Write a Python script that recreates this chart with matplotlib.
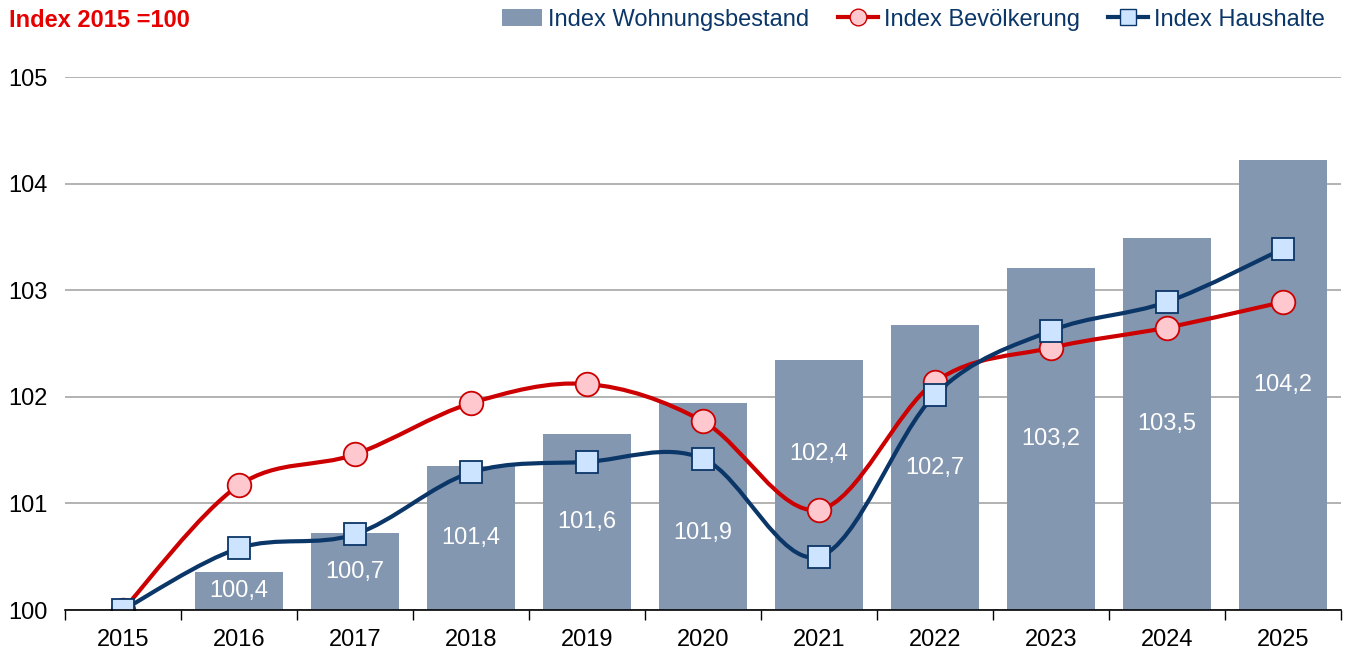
import matplotlib.pyplot as plt
import numpy as np
from matplotlib.path import Path
from matplotlib.patches import PathPatch
from matplotlib.lines import Line2D
from matplotlib.patches import Patch

plt.rcParams['font.family'] = ['Liberation Sans', 'DejaVu Sans']

# Daten
jahre = ["2015", "2016", "2017", "2018", "2019", "2020", "2021", "2022", "2023", "2024", "2025"]
wohnungsbestand = [100.0, 100.36, 100.72, 101.35, 101.65, 101.94, 102.35, 102.67, 103.21, 103.49, 104.22]
bestand_labels = ["", "100,4", "100,7", "101,4", "101,6", "101,9", "102,4", "102,7", "103,2", "103,5", "104,2"]
bevoelkerung = [100.0, 101.17, 101.46, 101.94, 102.12, 101.77, 100.94, 102.14, 102.46, 102.65, 102.89]
haushalte = [100.0, 100.58, 100.71, 101.29, 101.39, 101.42, 100.50, 102.02, 102.62, 102.89, 103.39]

# Farben
c_bar = "#8497B0"
c_red = "#CC0000"
c_red_face = "#FFC7CE"
c_navy = "#0B3668"
c_sq_face = "#CCE4FF"

x = np.arange(len(jahre))


def smooth_path(xs, ys):
    # glatte Kurve wie in Excel (Catmull-Rom als Bezier)
    pts = np.column_stack([xs, ys])
    verts = [pts[0]]
    codes = [Path.MOVETO]
    n = len(pts)
    for i in range(n - 1):
        p0 = pts[max(i - 1, 0)]
        p1 = pts[i]
        p2 = pts[i + 1]
        p3 = pts[min(i + 2, n - 1)]
        c1 = p1 + (p2 - p0) / 6.0
        c2 = p2 - (p3 - p1) / 6.0
        verts += [c1, c2, p2]
        codes += [Path.CURVE4] * 3
    return Path(verts, codes)


fig = plt.figure(figsize=(13.52, 6.55), dpi=100)
ax = fig.add_axes([0.048, 0.0687, 0.944, 0.8137])

ax.bar(x, np.array(wohnungsbestand) - 100, bottom=100, width=0.76, color=c_bar, zorder=2)

# Beschriftung in den Balken (zwei Labels verschoben wegen Linien)
label_shift = [0, 0, 0, 0, 0, -0.25, 0.29, 0, 0, 0, 0]
for i, lab in enumerate(bestand_labels):
    if lab:
        ymid = 100 + (wohnungsbestand[i] - 100) / 2 + label_shift[i]
        ax.text(x[i], ymid, lab, ha="center", va="center", color="white", fontsize=17, zorder=3)

ax.add_patch(PathPatch(smooth_path(x, bevoelkerung), fill=False, edgecolor=c_red, lw=3, zorder=4,
                       capstyle="round"))
ax.plot(x, bevoelkerung, ls="none", marker="o", ms=17, mfc=c_red_face, mec=c_red, mew=1.3, zorder=5)

ax.add_patch(PathPatch(smooth_path(x, haushalte), fill=False, edgecolor=c_navy, lw=3, zorder=6,
                       capstyle="round"))
ax.plot(x, haushalte, ls="none", marker="s", ms=16, mfc=c_sq_face, mec=c_navy, mew=1.3, zorder=7)

ax.set_xlim(-0.5, len(jahre) - 0.5)
ax.set_ylim(100, 105)
ax.set_yticks([100, 101, 102, 103, 104, 105])
ax.set_yticklabels(["100", "101", "102", "103", "104", "105"])
ax.set_xticks(x)
ax.set_xticklabels(jahre)
ax.set_xticks(np.arange(-0.5, len(jahre), 1), minor=True)
ax.tick_params(axis="x", which="major", length=0, labelsize=17, pad=14)
ax.tick_params(axis="x", which="minor", length=7, width=1, color="black", direction="out")
ax.tick_params(axis="y", length=0, labelsize=17, pad=41)
for lab in ax.get_yticklabels():
    lab.set_horizontalalignment("left")

ax.grid(axis="y", color="#A6A6A6", lw=1.2, zorder=0)
ax.set_axisbelow(True)
for s in ["top", "right", "left"]:
    ax.spines[s].set_visible(False)
ax.spines["bottom"].set_color("black")
ax.spines["bottom"].set_linewidth(1.2)
ax.spines["bottom"].set_zorder(8)

fig.text(0.007, 0.968, "Index 2015 =100", color="#E60000", fontsize=17, fontweight="bold",
         ha="left", va="center")

handles = [
    Patch(facecolor=c_bar, edgecolor="none"),
    Line2D([], [], color=c_red, lw=3, marker="o", ms=12, mfc=c_red_face, mec=c_red),
    Line2D([], [], color=c_navy, lw=3, marker="s", ms=11, mfc=c_sq_face, mec=c_navy),
]
leg = fig.legend(handles, ["Index Wohnungsbestand", "Index Bevölkerung", "Index Haushalte"],
                 loc="center right", bbox_to_anchor=(0.98, 0.97), ncol=3, frameon=False,
                 fontsize=17, handlelength=1.7, columnspacing=1.2, handletextpad=0.25,
                 borderpad=0, borderaxespad=0)
for t in leg.get_texts():
    t.set_color(c_navy)

fig.savefig("out.png", dpi=100)
